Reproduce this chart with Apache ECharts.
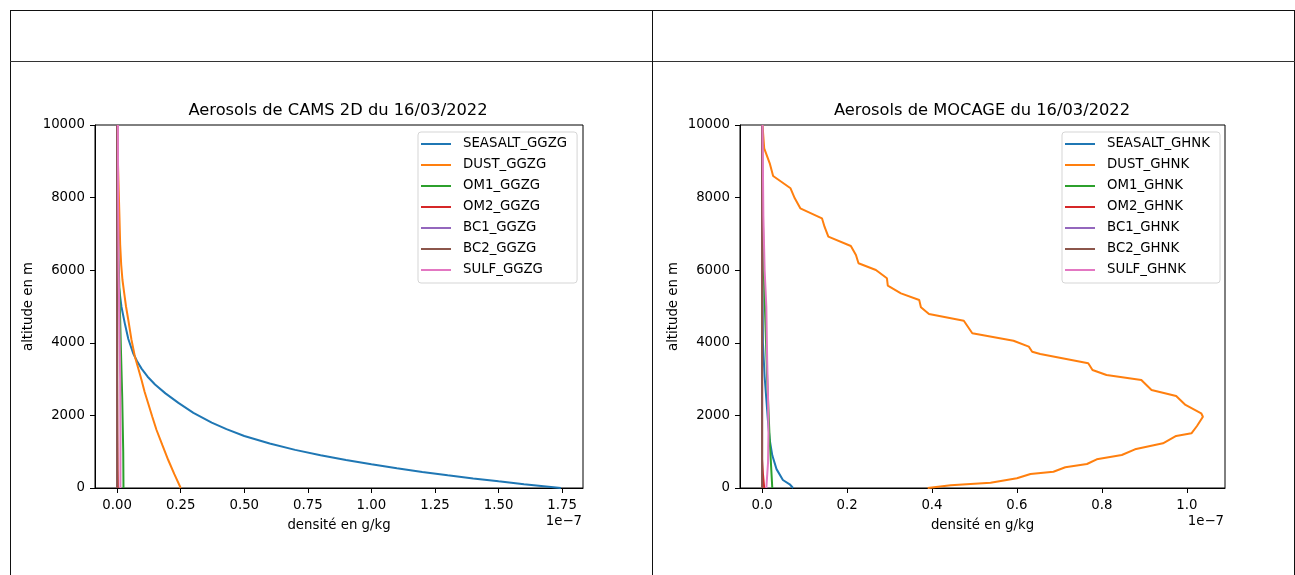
<!DOCTYPE html>
<html><head><meta charset="utf-8">
<script src="https://cdn.jsdelivr.net/npm/echarts@6/dist/echarts.min.js"></script>
<style>
html,body{margin:0;padding:0;width:1295px;height:575px;overflow:hidden;background:#fff;}
#frame{position:absolute;left:10px;top:10px;width:1283px;height:700px;border:1px solid #111;border-bottom:none;}
#hline{position:absolute;left:10px;top:61px;width:1285px;height:1px;background:#333;}
#vline{position:absolute;left:652px;top:10px;width:1px;height:700px;background:#111;}
#chart{position:absolute;left:0;top:0;width:1295px;height:575px;}
</style></head>
<body>
<div id="frame"></div><div id="hline"></div><div id="vline"></div>
<div id="chart"></div>
<script>
// ---- Data (density in units of 1e-7 g/kg, altitude in m) ----
const titles = ['Aerosols de CAMS 2D du 16/03/2022', 'Aerosols de MOCAGE du 16/03/2022'];
const namesCams = ['SEASALT_GGZG','DUST_GGZG','OM1_GGZG','OM2_GGZG','BC1_GGZG','BC2_GGZG','SULF_GGZG'];
const namesMocage = ['SEASALT_GHNK','DUST_GHNK','OM1_GHNK','OM2_GHNK','BC1_GHNK','BC2_GHNK','SULF_GHNK'];
const yTicks = [0, 2000, 4000, 6000, 8000, 10000];
const xTicksCams = [0, 0.25, 0.5, 0.75, 1.0, 1.25, 1.5, 1.75];
const xTicksMocage = [0, 0.2, 0.4, 0.6, 0.8, 1.0];

// CAMS 2D profiles: [density, altitude]
const camsSeasalt = [[1.745,0],[1.6,105],[1.5,183],[1.4,264],[1.3,350],[1.2,443],[1.1,543],[1.0,652],[0.9,770],[0.8,902],[0.7,1050],[0.6,1226],[0.5,1433],[0.43,1621],[0.372,1802],[0.30,2071],[0.241,2345],[0.19,2607],[0.149,2850],[0.12,3066],[0.096,3289],[0.078,3497],[0.063,3711],[0.044,4106],[0.031,4509],[0.017,4995],[0.007,5546],[0.003,6000],[0.001,6600],[0.0003,7500],[0,8500],[0,10000]];
const camsDust = [[0.25,0],[0.225,380],[0.201,771],[0.178,1180],[0.155,1598],[0.138,1970],[0.122,2333],[0.108,2650],[0.096,2975],[0.083,3300],[0.070,3617],[0.056,4100],[0.044,4628],[0.035,5000],[0.028,5364],[0.021,5730],[0.016,6150],[0.012,6700],[0.009,7500],[0.005,8500],[0.002,9300],[0.001,10000]];
const camsOm1 = [[0.025,0],[0.024,1000],[0.020,2500],[0.015,3800],[0.010,5200],[0.005,6500],[0.002,8000],[0,10000]];
const camsOm2 = [[0.003,0],[0.002,500],[0.001,1500],[0,3000],[0,10000]];
const camsBc1 = [[0,0],[0,10000]];
const camsBc2 = [[0,0],[0,10000]];
const camsSulf = [[0.013,0],[0.013,1500],[0.012,3000],[0.009,4500],[0.006,6000],[0.004,8000],[0.003,10000]];

// MOCAGE profiles: [density, altitude]
const mocSeasalt = [[0.073,0],[0.065,102],[0.049,220],[0.034,520],[0.024,900],[0.018,1322],[0.014,1826],[0.006,3066],[0.002,4000],[0.001,5500],[0,7000],[0,10000]];
const mocDust = [[0.39,0],[0.444,74],[0.538,146],[0.600,267],[0.632,386],[0.686,449],[0.714,570],[0.765,661],[0.788,790],[0.847,909],[0.878,1066],[0.944,1231],[0.975,1433],[1.011,1507],[1.024,1708],[1.038,1964],[1.034,2058],[0.997,2287],[0.975,2534],[0.917,2700],[0.893,2975],[0.811,3113],[0.778,3251],[0.768,3435],[0.655,3691],[0.636,3755],[0.628,3893],[0.592,4058],[0.495,4262],[0.475,4609],[0.393,4793],[0.374,4978],[0.370,5179],[0.327,5363],[0.296,5573],[0.294,5777],[0.268,6006],[0.227,6190],[0.221,6419],[0.209,6667],[0.156,6923],[0.147,7199],[0.141,7430],[0.090,7705],[0.077,7981],[0.067,8256],[0.026,8595],[0.018,8945],[0.005,9358],[0.001,10000]];
const mocOm1 = [[0.024,0],[0.018,1300],[0.012,3000],[0.008,4500],[0.004,6000],[0.001,8000],[0,10000]];
const mocOm2 = [[0.005,0],[0.002,400],[0,800],[0,10000]];
const mocBc1 = [[0,0],[0,10000]];
const mocBc2 = [[0,0],[0,10000]];
const mocSulf = [[0.010,0],[0.014,700],[0.015,1500],[0.014,2500],[0.012,3500],[0.010,5000],[0.006,6000],[0.003,7500],[0.001,10000]];

const colors = ['#1f77b4','#ff7f0e','#2ca02c','#d62728','#9467bd','#8c564b','#e377c2'];
const camsData = [camsSeasalt, camsDust, camsOm1, camsOm2, camsBc1, camsBc2, camsSulf];
const mocData = [mocSeasalt, mocDust, mocOm1, mocOm2, mocBc1, mocBc2, mocSulf];

const FONT = 'DejaVu Sans';
const chart = echarts.init(document.getElementById('chart'), null, {renderer:'canvas'});

function series(names, datas, idx) {
  return names.map((n, i) => ({
    name: n, type: 'line', xAxisIndex: idx, yAxisIndex: idx,
    data: datas[i], symbol: 'none', showSymbol: false, smooth: false,
    lineStyle: {color: colors[i], width: 2}, itemStyle: {color: colors[i]},
    emphasis: {disabled: true}, z: 2 + i
  }));
}

function xAxis(idx, min, max, ticks, dec) {
  return {
    type: 'value', gridIndex: idx, min: min, max: max,
    name: 'densité en g/kg', nameLocation: 'middle', nameGap: 31,
    nameTextStyle: {fontFamily: FONT, fontSize: 13.3, color: '#000'},
    axisLine: {show: true, onZero: false, lineStyle: {color: '#000', width: 1}},
    axisTick: {show: true, length: 5, customValues: ticks, lineStyle: {color: '#000'}},
    axisLabel: {show: true, customValues: ticks, margin: 11, fontFamily: FONT, fontSize: 13.3, color: '#000',
      formatter: v => v.toFixed(dec)},
    splitLine: {show: false}
  };
}
function yAxis(idx) {
  return {
    type: 'value', gridIndex: idx, min: 0, max: 10000, interval: 2000,
    name: 'altitude en m', nameLocation: 'middle', nameGap: 60,
    nameTextStyle: {fontFamily: FONT, fontSize: 13.3, color: '#000'},
    axisLine: {show: true, onZero: false, lineStyle: {color: '#000', width: 1}},
    axisTick: {show: true, length: 5, lineStyle: {color: '#000'}},
    axisLabel: {show: true, margin: 10, fontFamily: FONT, fontSize: 13.3, color: '#000',
      formatter: v => String(v)},
    splitLine: {show: false}
  };
}
function legend(names, left) {
  return {
    data: names.map(n => ({name: n, icon: 'rect'})), orient: 'vertical', left: left, top: 132,
    itemWidth: 30, itemHeight: 2, itemGap: 5,
    padding: [4, 10, 5, 3],
    borderColor: '#d5d5d5', borderWidth: 1, borderRadius: 3, backgroundColor: 'rgba(255,255,255,0.8)',
    textStyle: {fontFamily: FONT, fontSize: 13.3, color: '#000', padding: [0,0,0,7], lineHeight: 16},
    selectedMode: false
  };
}

const option = {
  animation: false,
  title: [
    {text: titles[0], left: 338, top: 103, textAlign: 'center', padding: 0,
      textStyle: {fontFamily: FONT, fontSize: 16.3, fontWeight: 'normal', color: '#000'}},
    {text: titles[1], left: 982, top: 103, textAlign: 'center', padding: 0,
      textStyle: {fontFamily: FONT, fontSize: 16.3, fontWeight: 'normal', color: '#000'}}
  ],
  grid: [
    {left: 95, top: 125, width: 488, height: 363, show: true, borderColor: '#000', borderWidth: 1, backgroundColor: 'transparent'},
    {left: 740, top: 125, width: 485, height: 363, show: true, borderColor: '#000', borderWidth: 1, backgroundColor: 'transparent'}
  ],
  xAxis: [xAxis(0, -0.087, 1.832, xTicksCams, 2), xAxis(1, -0.052, 1.09, xTicksMocage, 1)],
  yAxis: [yAxis(0), yAxis(1)],
  legend: [legend(namesCams, 418), legend(namesMocage, 1062)],
  graphic: [
    {type: 'text', right: 1295 - 582, top: 515, style: {text: '1e\u22127', fontFamily: FONT, fontSize: 13.3, fill: '#000'}},
    {type: 'text', right: 1295 - 1224, top: 515, style: {text: '1e\u22127', fontFamily: FONT, fontSize: 13.3, fill: '#000'}}
  ],
  series: [].concat(series(namesCams, camsData, 0), series(namesMocage, mocData, 1))
};
chart.setOption(option);
</script>
</body></html>
